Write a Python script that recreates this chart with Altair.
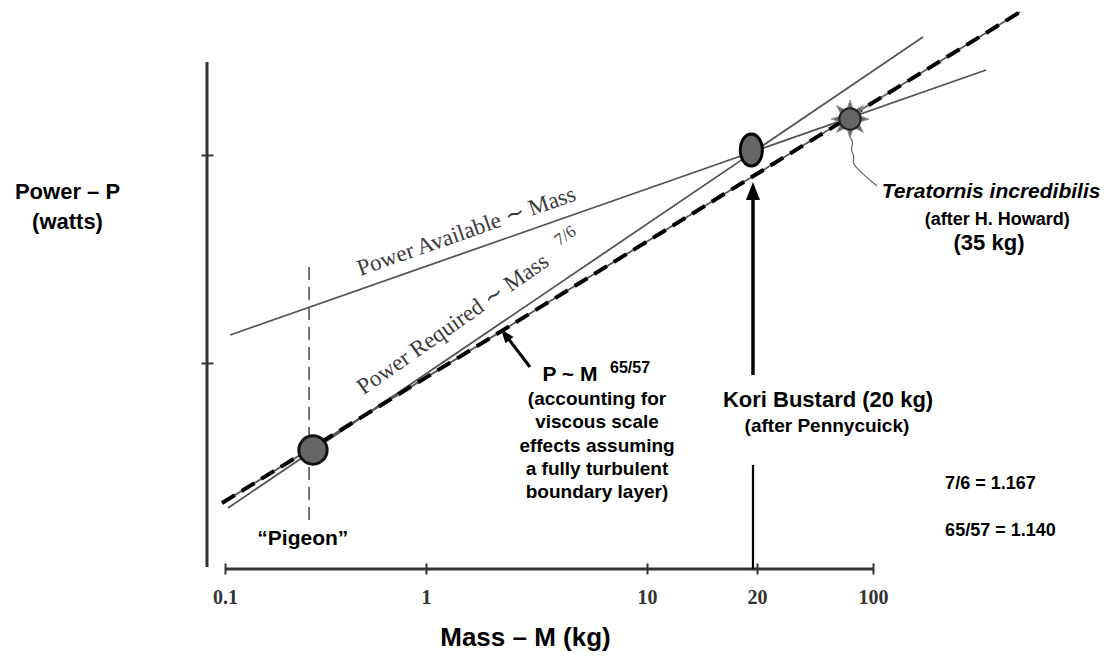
import math
import altair as alt
import pandas as pd

# ---------------- data ----------------
# hand-drawn mass axis: knots of a piecewise logarithmic scale
mass_knots = [0.08, 0.1, 1, 10, 20, 100]
mass_knot_pos = [0, 18, 219, 440, 550, 666]
mass_ticks = [0.1, 1, 10, 20, 100]
power_ticks = [2.06, 4.14]
power_domain = [0, 5.59]

# straight lines (relative log power, arbitrary units)
line_names = ["Power Available", "Power Required", "P ~ M 65/57"]
line_mass_start = [0.106, 0.1035, 0.0964]
line_mass_end = [480, 200, 769]
line_power_start = [2.34, 0.61, 0.66]
line_power_end = [4.99, 5.32, 5.57]

# birds
bird_names = ["Pigeon", "Kori Bustard", "Teratornis incredibilis"]
bird_mass = [0.274, 19.3, 72.7]
bird_power = [1.19, 4.19, 4.50]

# pigeon guide (dashed vertical)
pigeon_guide_mass = [0.262]
pigeon_guide_top = [3.02]
pigeon_guide_bottom = [0.49]

# Kori Bustard arrow (two pieces, broken by the label) and its head
kori_arrow_mass = [19.5, 19.5]
kori_arrow_from = [3.74, 1.04]
kori_arrow_to = [1.94, 0.0]
kori_head_mass = [19.5]
kori_head_power = [3.78]

# arrow pointing at the P ~ M line
pm_arrow_mass = [2.955]
pm_arrow_mass2 = [2.326]
pm_arrow_power = [2.02]
pm_arrow_power2 = [2.32]
pm_head_mass = [2.282]
pm_head_power = [2.344]
pm_head_angle = [322.7]

# squiggly pointer below Teratornis
squiggle_mass = [71.7, 76.8, 72.7, 77.9, 74.7, 81.2, 90.8, 105.7]
squiggle_power = [4.34, 4.26, 4.19, 4.13, 4.06, 4.00, 3.92, 3.83]

# hand-drawn axis lines
x_axis_mass = [0.1]
x_axis_mass2 = [100]
x_axis_power = [0.0]
y_axis_mass = [0.08]
y_axis_power = [0.02]
y_axis_power2 = [5.07]

# annotations
center_texts = ["\u201cPigeon\u201d", "Kori Bustard (20 kg)", "(after Pennycuick)",
                "(after H. Howard)", "(35 kg)", "P ~ M", "65/57",
                "(accounting for", "viscous scale", "effects assuming",
                "a fully turbulent", "boundary layer)"]
center_mass = [0.244, 53.6, 52.8, 560, 500, 4.48, 8.38, 5.94, 5.94, 5.94, 5.94, 5.94]
center_power = [0.24, 1.62, 1.37, 3.44, 3.19, 1.88, 1.96, 1.64, 1.41, 1.17, 0.94, 0.71]
center_size = [21, 22, 19, 18, 22, 21, 16, 19, 19, 19, 19, 19]

left_texts = ["7/6 = 1.167", "65/57 = 1.140"]
left_mass = [272, 272]
left_power = [0.80, 0.33]

italic_texts = ["Teratornis incredibilis"]
italic_mass = [515]
italic_power = [3.71]

serif_texts = ["Power  Available \u223c Mass", "Power Required  \u223c  Mass", "7/6"]
serif_mass = [1.56, 1.38, 4.40]
serif_power = [3.31, 2.39, 3.29]
serif_angle = [340.7, 325, 325]
serif_size = [23, 23, 17]

# ---------------- chart ----------------
xs = alt.Scale(type="log", domain=mass_knots, range=mass_knot_pos, nice=False)
ys = alt.Scale(domain=power_domain, nice=False, zero=False)

x_axis = alt.Axis(values=mass_ticks, format="~g", domain=False, grid=False,
                  ticks=True, tickSize=11, offset=-6, tickColor="#333", tickWidth=2,
                  labelFont="Liberation Serif", labelFontSize=20, labelFontWeight="bold",
                  labelColor="#333",
                  labelBaseline="alphabetic", labelPadding=29, labelFlush=False,
                  labelOverlap=False,
                  title="Mass \u2013 M (kg)", titleFont="Liberation Sans",
                  titleFontSize=26, titleFontWeight="bold", titleColor="#000",
                  titleX=318, titleY=82, titleAlign="center", titleBaseline="alphabetic")
y_axis = alt.Axis(values=power_ticks, labels=False, domain=False, grid=False,
                  ticks=True, tickSize=12, offset=-6, tickColor="#333", tickWidth=2,
                  title=["Power \u2013 P", "(watts)"], titleAngle=0,
                  titleFont="Liberation Sans", titleFontSize=22, titleFontWeight="bold",
                  titleColor="#000", titleX=-146, titleY=188, titleAlign="center",
                  titleBaseline="alphabetic", titleLineHeight=30)


def X(f="x"):
    return alt.X(f, type="quantitative", scale=xs, axis=x_axis)


def Y(f="y"):
    return alt.Y(f, type="quantitative", scale=ys, axis=y_axis)


# axis frame
xframe = alt.Chart(pd.DataFrame({"x": x_axis_mass, "x2": x_axis_mass2, "y": x_axis_power})).mark_rule(
    color="#333", strokeWidth=3).encode(x=X(), x2="x2:Q", y=Y())
yframe = alt.Chart(pd.DataFrame({"x": y_axis_mass, "y": y_axis_power, "y2": y_axis_power2})).mark_rule(
    color="#333", strokeWidth=3).encode(x=X(), y=Y(), y2="y2:Q")

lines_df = pd.DataFrame({"name": line_names, "x": line_mass_start, "x2": line_mass_end,
                         "y": line_power_start, "y2": line_power_end})
thin_lines = alt.Chart(lines_df).mark_rule(color="#555", strokeWidth=1.8).encode(
    x=X(), x2="x2:Q", y=Y(), y2="y2:Q")
dashed_line = alt.Chart(lines_df).transform_filter(
    alt.datum.name == "P ~ M 65/57").mark_rule(color="#000", strokeWidth=4,
                                                strokeDash=[15, 8]).encode(
    x=X(), x2="x2:Q", y=Y(), y2="y2:Q")

pigeon_guide = alt.Chart(pd.DataFrame({"x": pigeon_guide_mass, "y": pigeon_guide_top,
                                       "y2": pigeon_guide_bottom})).mark_rule(
    color="#444", strokeWidth=1.5, strokeDash=[13, 7]).encode(x=X(), y=Y(), y2="y2:Q")

kori_df = pd.DataFrame({"x": kori_arrow_mass, "y": kori_arrow_from, "y2": kori_arrow_to,
                        "w": [3.5, 2.2]})
kori_arrow = alt.Chart(kori_df).mark_rule(color="#000").encode(
    x=X(), y=Y(), y2="y2:Q", strokeWidth=alt.StrokeWidth("w:Q", scale=None))
kori_head = alt.Chart(pd.DataFrame({"x": kori_head_mass, "y": kori_head_power})).mark_point(
    shape="M0,-1L0.78,1L-0.78,1Z", size=324, filled=True, color="#000", opacity=1).encode(
    x=X(), y=Y())

pm_arrow = alt.Chart(pd.DataFrame({"x": pm_arrow_mass, "x2": pm_arrow_mass2,
                                   "y": pm_arrow_power, "y2": pm_arrow_power2})).mark_rule(
    color="#000", strokeWidth=3).encode(x=X(), x2="x2:Q", y=Y(), y2="y2:Q")
pm_head = alt.Chart(pd.DataFrame({"x": pm_head_mass, "y": pm_head_power,
                                  "a": pm_head_angle})).mark_point(
    shape="M0,-1L0.72,1L-0.72,1Z", size=196, filled=True, color="#000", opacity=1).encode(
    x=X(), y=Y(), angle=alt.Angle("a:Q", scale=None))

squiggle = alt.Chart(pd.DataFrame({"x": squiggle_mass, "y": squiggle_power,
                                   "o": list(range(len(squiggle_mass)))})).mark_line(
    color="#666", strokeWidth=1.2, interpolate="basis").encode(x=X(), y=Y(), order="o:Q")

birds_df = pd.DataFrame({"name": bird_names, "x": bird_mass, "y": bird_power})

# 8-point star behind Teratornis
pts = []
for k in range(8):
    a = math.radians(k * 45)
    tip = (math.sin(a), -math.cos(a))
    b1 = (0.5 * math.sin(a - math.radians(20)), -0.5 * math.cos(a - math.radians(20)))
    b2 = (0.5 * math.sin(a + math.radians(20)), -0.5 * math.cos(a + math.radians(20)))
    pts.append("M%.3f,%.3fL%.3f,%.3fL%.3f,%.3fZ" % (b1[0], b1[1], tip[0], tip[1], b2[0], b2[1]))
star_path = "".join(pts)
star = alt.Chart(birds_df).transform_filter(
    alt.datum.name == "Teratornis incredibilis").mark_point(
    shape=star_path, size=1444, filled=True, fill="#6a6a6a", stroke="#999",
    strokeWidth=1, opacity=1).encode(x=X(), y=Y())
tera_dot = alt.Chart(birds_df).transform_filter(
    alt.datum.name == "Teratornis incredibilis").mark_point(
    shape="circle", size=452, filled=True, fill="#666", stroke="#222",
    strokeWidth=2, opacity=1).encode(x=X(), y=Y())
pigeon_dot = alt.Chart(birds_df).transform_filter(
    alt.datum.name == "Pigeon").mark_point(
    shape="circle", size=804, filled=True, fill="#666", stroke="#111",
    strokeWidth=3, opacity=1).encode(x=X(), y=Y())
kori_dot = alt.Chart(birds_df).transform_filter(
    alt.datum.name == "Kori Bustard").mark_point(
    shape="M-0.69,0A0.69,1 0 1,0 0.69,0A0.69,1 0 1,0 -0.69,0Z", size=1024,
    filled=True, fill="#666", stroke="#000", strokeWidth=3, opacity=1).encode(x=X(), y=Y())

center_df = pd.DataFrame({"t": center_texts, "x": center_mass, "y": center_power,
                          "s": center_size})
center_layer = alt.Chart(center_df).mark_text(
    font="Liberation Sans", fontWeight="bold", align="center", baseline="alphabetic",
    color="#000").encode(x=X(), y=Y(), text="t:N", size=alt.Size("s:Q", scale=None))
left_layer = alt.Chart(pd.DataFrame({"t": left_texts, "x": left_mass, "y": left_power})).mark_text(
    font="Liberation Sans", fontWeight="bold", align="left", baseline="alphabetic",
    fontSize=18, color="#000").encode(x=X(), y=Y(), text="t:N")
italic_layer = alt.Chart(pd.DataFrame({"t": italic_texts, "x": italic_mass,
                                       "y": italic_power})).mark_text(
    font="Liberation Sans", fontWeight="bold", fontStyle="italic", align="center",
    baseline="alphabetic", fontSize=21, color="#000").encode(x=X(), y=Y(), text="t:N")

serif_df = pd.DataFrame({"t": serif_texts, "x": serif_mass, "y": serif_power,
                         "a": serif_angle, "s": serif_size})
serif_layer = alt.Chart(serif_df).mark_text(
    font="Liberation Serif", align="center", baseline="alphabetic", color="#3a3a3a").encode(
    x=X(), y=Y(), text="t:N", angle=alt.Angle("a:Q", scale=None),
    size=alt.Size("s:Q", scale=None))

chart = alt.layer(
    xframe, yframe, pigeon_guide, thin_lines, dashed_line, squiggle,
    kori_arrow, kori_head, pm_arrow, pm_head,
    star, tera_dot, pigeon_dot, kori_dot,
    serif_layer, center_layer, left_layer, italic_layer,
).properties(
    width=833, height=559,
    background="white",
    autosize=alt.AutoSizeParams(type="none"),
    padding={"left": 199, "top": 2, "right": 66, "bottom": 82},
).configure_view(strokeWidth=0, stroke=None)

chart.save("out.html", embed_options={"renderer": "svg", "actions": False})
